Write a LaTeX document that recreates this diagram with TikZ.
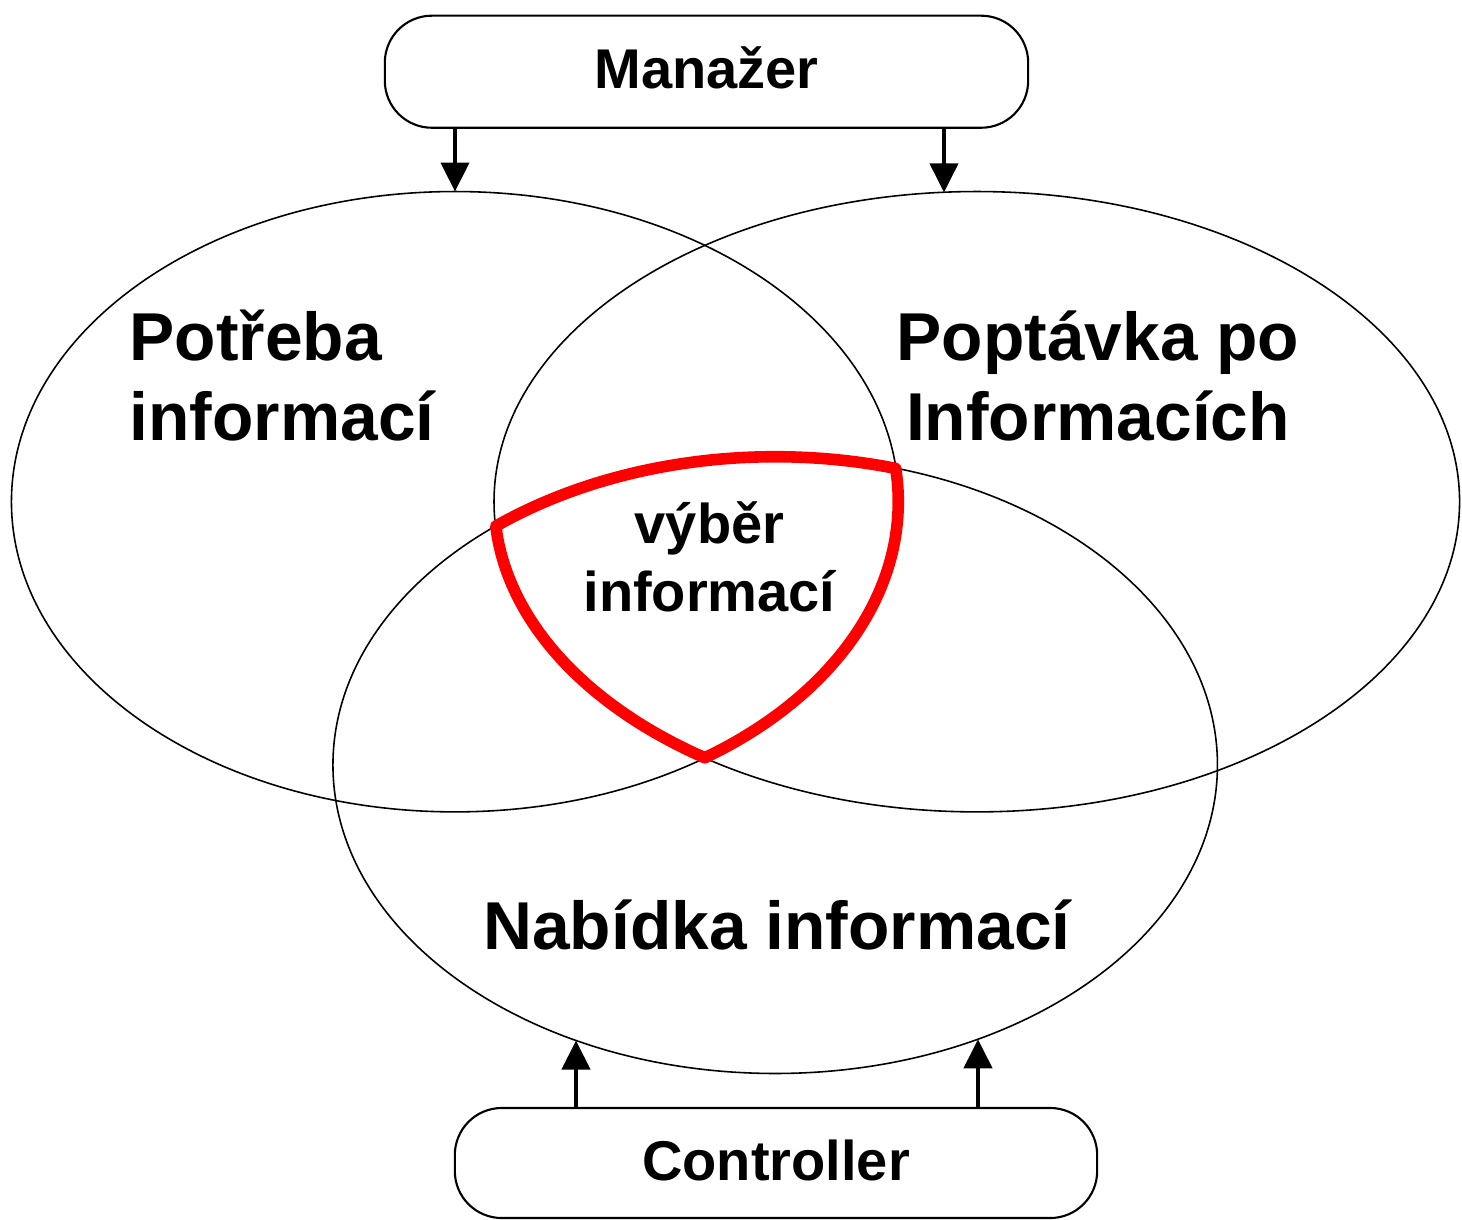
\documentclass[tikz,border=0pt]{standalone}
\usepackage{fontspec}
\setmainfont{Liberation Sans}
\usetikzlibrary{shapes.geometric,arrows.meta}
\begin{document}
\begin{tikzpicture}[x=0.01cm,y=-0.01cm,
  big/.style={font=\fontsize{19.26}{23}\selectfont\bfseries, inner sep=0pt},
  mid/.style={font=\fontsize{15.93}{19}\selectfont\bfseries, inner sep=0pt},
  setell/.style={draw, ellipse, line width=0.45pt, inner sep=0pt, outer sep=0pt},
  rbox/.style={draw, rectangle, rounded corners=0.47cm, line width=0.6pt, minimum width=6.43cm, inner sep=0pt, text height=0.34cm, text depth=0pt, font=\fontsize{15.93}{19}\selectfont\bfseries},
  arr/.style={line width=1.2pt, -{Triangle[length=0.29cm,width=0.28cm]}},
  sel/.style={draw=red, line width=3.3pt, line join=round}]
\useasboundingbox (0,0) rectangle (1462,1220);

% boxes
\node[rbox, minimum height=1.12cm] (man) at (706.5,71.7) {Manažer};
\node[rbox, minimum height=1.10cm, minimum width=6.42cm] (ctrl) at (776,1163) {Controller};

% sets
\node[setell, minimum width=8.866cm, minimum height=6.2cm] (L) at (455,501.7) {};
\node[setell, minimum width=9.65cm, minimum height=6.2cm] (R) at (976.8,501.7) {};
\node[setell, minimum width=8.84cm, minimum height=6.166cm] (B) at (775.2,765) {};

% arrows
\coordinate (rt) at (944,192.4);
\coordinate (bl) at (576,1040.5);
\coordinate (br) at (978,1039.3);
\draw[arr] (man.south -| L.north) -- (L.north);
\draw[arr] (man.south -| rt) -- (rt);
\draw[arr] (ctrl.north -| bl) -- (bl);
\draw[arr] (ctrl.north -| br) -- (br);

% selection region
\draw[sel] plot[domain=74.17:129.2, samples=30, smooth] ({775.2+442*cos(\x)},{765-308.3*sin(\x)})
  -- plot[domain=184.48:235.69, samples=30, smooth] ({976.8+482.5*cos(\x)},{501.7-310*sin(\x)})
  -- plot[domain=-55.69:6.17, samples=30, smooth] ({455+443.3*cos(\x)},{501.7-310*sin(\x)})
  -- cycle;

% labels
\node[big, anchor=base west] (p1) at (129,360) {Potřeba};
\node[big, anchor=base west] (p2) at (129,440) {informací};
\node[big, anchor=base] (q1) at (1098,360) {Poptávka po};
\node[big, anchor=base] (q2) at (1098,440) {Informacích};
\node[mid, anchor=base] (v1) at (709.5,543) {výběr};
\node[mid, anchor=base] (v2) at (709.5,611) {informací};
\node[big, anchor=base] (n1) at (777,949) {Nabídka informací};
\end{tikzpicture}
\end{document}
